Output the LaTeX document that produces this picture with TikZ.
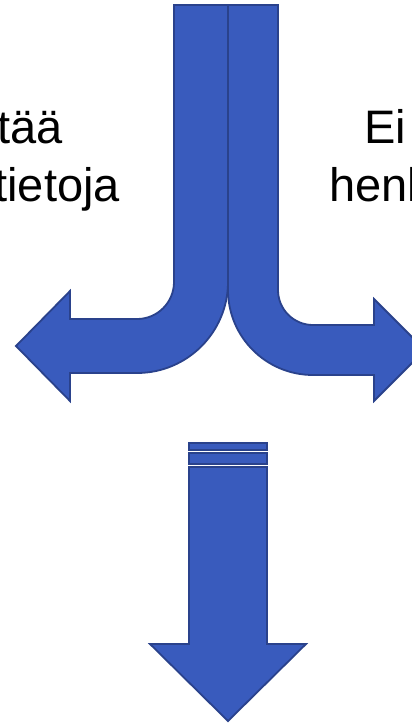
\documentclass[tikz,border=0pt]{standalone}
\usepackage{fontspec}
\setmainfont{Liberation Sans}
\definecolor{arrfill}{RGB}{57,91,189}
\definecolor{arredge}{RGB}{42,66,140}
\tikzset{
  arrowshape/.style={fill=arrfill,draw=arredge,line width=1.8pt,line join=miter},
  lbl/.style={inner sep=0pt,font=\fontsize{47}{58}\selectfont,text=black}
}
\begin{document}
\begin{tikzpicture}[x=1pt,y=-1pt]
\useasboundingbox (0,0) rectangle (412,723);
\clip (0,0) rectangle (412,723);
\fill[white] (0,0) rectangle (412,723);
% left bent arrow
\draw[arrowshape] (174,5) -- (228,5) -- (228,282) arc[start angle=0,end angle=90,radius=91]
  -- (70,373) -- (70,401) -- (16,346) -- (70,291) -- (70,319) -- (137,319)
  arc[start angle=90,end angle=0,radius=37] -- cycle;
% right bent arrow
\draw[arrowshape] (228,5) -- (278,5) -- (278,290) arc[start angle=180,end angle=90,radius=35]
  -- (374,325) -- (374,299) -- (425,350) -- (374,401) -- (374,375) -- (313,375)
  arc[start angle=90,end angle=180,radius=85] -- cycle;
% striped down arrow
\draw[arrowshape] (189,443) rectangle (267,450);
\draw[arrowshape] (189,453) rectangle (267,464);
\draw[arrowshape] (189,467) -- (267,467) -- (267,644) -- (306,644) -- (228,721)
  -- (150,644) -- (189,644) -- cycle;
% texts
\node[lbl,anchor=base east] (l1) at (63,143) {tää};
\node[lbl,anchor=base east] (l2) at (120,201) {tietoja};
\node[lbl,anchor=base west] (r1) at (364,143) {Ei};
\node[lbl,anchor=base west] (r2) at (329,201) {henk};
\end{tikzpicture}
\end{document}
